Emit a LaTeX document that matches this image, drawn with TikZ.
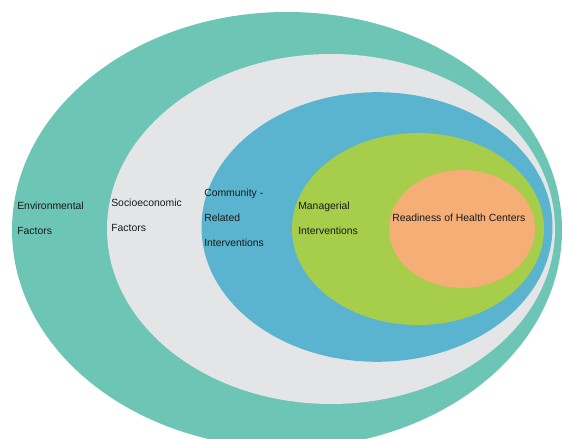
\documentclass[tikz,border=0pt]{standalone}
\usepackage{fontspec}
\setmainfont{Liberation Sans}
\usetikzlibrary{positioning}

\definecolor{envteal}{RGB}{108,197,181}
\definecolor{sociogray}{RGB}{227,229,231}
\definecolor{commblue}{RGB}{90,180,207}
\definecolor{mgmtgreen}{RGB}{166,206,74}
\definecolor{readyorange}{RGB}{245,174,118}

\tikzset{
  ringtext/.style={anchor=west, inner sep=0pt, align=left, text=black!90,
    font=\fontsize{7.4}{17.8}\selectfont}
}

\begin{document}
\begin{tikzpicture}

	% Frame
	\useasboundingbox (0,0) rectangle (14.05,10.975);
	\clip (0,0) rectangle (14.05,10.975);

	% Centres
	\coordinate (E) at (7.175,5.225);
	\coordinate (S) at (8.275,5.25);
	\coordinate (C) at (9.425,5.3);
	\coordinate (M) at (10.45,5.25);
	\coordinate (R) at (11.55,5.25);

	% Rings, outside in
	\fill[envteal]     (E) ellipse [x radius=6.875, y radius=5.45];
	\fill[sociogray]   (S) ellipse [x radius=5.6,   y radius=4.375];
	\fill[commblue]    (C) ellipse [x radius=4.3875,y radius=3.37];
	\fill[mgmtgreen]   (M) ellipse [x radius=3.15,  y radius=2.4];
	\fill[readyorange] (R) ellipse [x radius=1.825, y radius=1.475];

	% Labels
	\node[ringtext] (env)   at (0.425,5.51) {Environmental\\Factors};
	\node[ringtext] (socio) at (2.775,5.6)  {Socioeconomic\\Factors};
	\node[ringtext] (comm)  at (5.1,5.525)  {Community -\\Related\\Interventions};
	\node[ringtext] (mgmt)  at (7.45,5.51)  {Managerial\\Interventions};
	\node[ringtext] (ready) at (9.8,5.525)  {Readiness of Health Centers};

\end{tikzpicture}
\end{document}
